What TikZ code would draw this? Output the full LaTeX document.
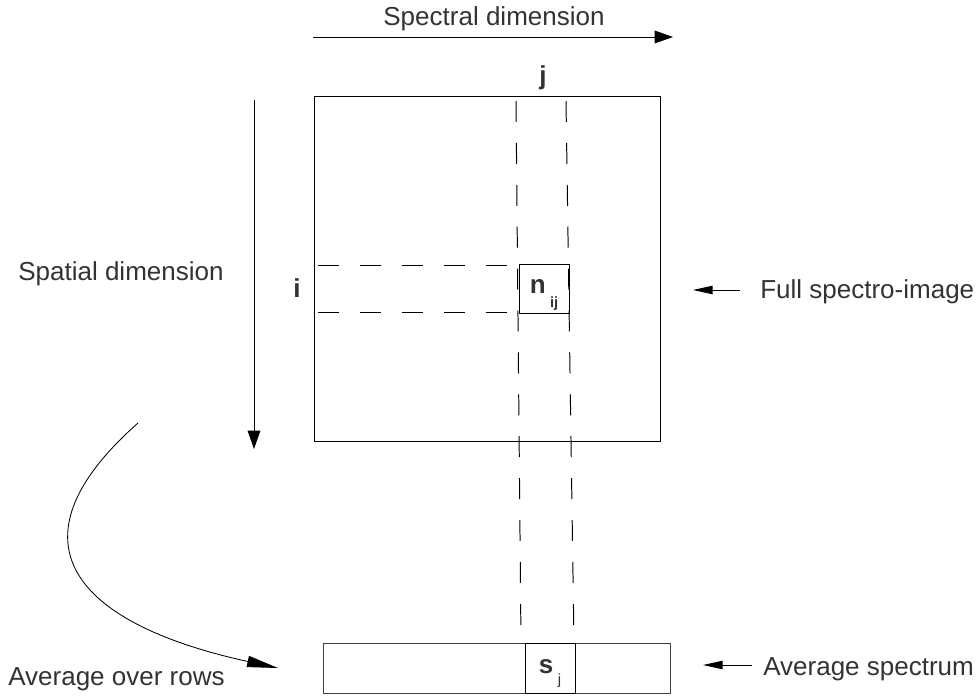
\documentclass[tikz,border=0pt]{standalone}
\usepackage{fontspec}
\setmainfont{Liberation Sans}
\usetikzlibrary{arrows.meta,positioning}

\begin{document}
\begin{tikzpicture}[x=0.025cm, y=-0.025cm]
  \tikzstyle{lbl} = [inner sep=0, text=black!80, font=\fontsize{18.5}{22}\selectfont]
  \tikzstyle{cell} = [draw, line width=0.7pt, inner sep=0, minimum width=1.25cm, text=black!80, font=\fontsize{18.5}{22}\selectfont]
  \tikzstyle{guide} = [line width=0.7pt, dash pattern=on 14.9pt off 14.9pt]
  \tikzstyle{pointer} = [line width=0.7pt, -{Triangle[length=13pt, width=9pt]}]
  \tikzstyle{smallpointer} = [line width=0.7pt, -{Triangle[length=14pt, width=6pt]}]
  \useasboundingbox (0,0) rectangle (980,699);
  % image and spectrum
  \node[draw, line width=0.7pt, minimum width=8.625cm, minimum height=8.6cm] (img) at (487.5,269) {};
  \node[draw=black!75, line width=0.7pt, minimum width=8.65cm, minimum height=1.25cm] (bar) at (497,668) {};
  \node[cell, minimum height=1.225cm, text height=12pt, text depth=5.6pt] (nij) at (544,288.5) {\textbf{n}\,\raisebox{-10.6pt}{\fontsize{10.5}{11}\selectfont\textbf{ij}}};
  \node[cell, minimum height=1.25cm, text height=12pt, text depth=4.9pt] (sj) at (550,668) {\textbf{s}\,\raisebox{-8pt}{\fontsize{10.5}{11}\selectfont j}};
  % labels
  \node[lbl, anchor=base] (spec) at (494,25) {Spectral dimension};
  \node[lbl, anchor=base west] (spat) at (18,280) {Spatial dimension};
  \node[lbl, anchor=base] (jlbl) at (543,84) {\bfseries j};
  \node[lbl, anchor=base] (ilbl) at (297,297) {\bfseries i};
  \node[lbl, anchor=base west] (full) at (760,298) {Full spectro-image};
  \node[lbl, anchor=base west] (avgspec) at (763,675) {Average spectrum};
  \node[lbl, anchor=base west] (avgrows) at (8,685) {Average over rows};
  % guide lines
  \coordinate (jleft) at (516,101);
  \coordinate (jright) at (566,101);
  \coordinate (jleftend) at (521,643);
  \coordinate (jrightend) at (574,643);
  \coordinate (itop) at (318,265);
  \coordinate (ibot) at (318,312);
  \draw[guide] (jleft) -- (jleftend);
  \draw[guide] (jright) -- (jrightend);
  \draw[guide] (itop) -- (itop -| nij.west);
  \draw[guide] (ibot) -- (ibot -| nij.west);
  % arrows
  \coordinate (specfrom) at (313,37);
  \coordinate (specto) at (673,37);
  \coordinate (spatfrom) at (254,100);
  \coordinate (spatto) at (254,449);
  \coordinate (fullfrom) at (740,290);
  \coordinate (fullto) at (693,290);
  \coordinate (avgfrom) at (752,665);
  \coordinate (avgto) at (703,665);
  \coordinate (rowsfrom) at (138,423);
  \coordinate (rowsto) at (278,668);
  \draw[pointer] (specfrom) -- (specto);
  \draw[pointer] (spatfrom) -- (spatto);
  \draw[smallpointer] (fullfrom) -- (fullto);
  \draw[smallpointer] (avgfrom) -- (avgto);
  \draw[line width=0.6pt, -{Triangle[length=22pt, width=8pt]}] (rowsfrom) .. controls (0,545) and (80,625) .. (rowsto);
\end{tikzpicture}
\end{document}
